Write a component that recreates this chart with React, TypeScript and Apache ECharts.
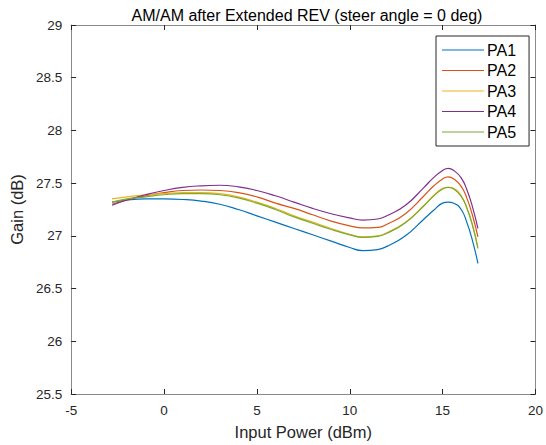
import React, { useEffect, useRef } from "react";
import * as echarts from "echarts";

const inputPower = [-2.8, -2, -1, 0, 1, 2, 3, 4, 5, 6, 7, 8, 9, 10, 10.7, 11.5, 12, 13, 14, 14.5, 15, 15.3, 15.6, 16, 16.3, 16.6, 16.9];

const pa1 = [27.32, 27.34, 27.35, 27.35, 27.345, 27.33, 27.3, 27.25, 27.19, 27.13, 27.07, 27.01, 26.95, 26.89, 26.86, 26.87, 26.9, 27.0, 27.16, 27.24, 27.31, 27.32, 27.31, 27.25, 27.13, 26.96, 26.74];
const pa2 = [27.3, 27.34, 27.38, 27.41, 27.43, 27.435, 27.43, 27.41, 27.37, 27.31, 27.26, 27.2, 27.14, 27.095, 27.075, 27.08, 27.11, 27.21, 27.38, 27.47, 27.54, 27.56, 27.54, 27.47, 27.36, 27.2, 26.99];
const pa3 = [27.35, 27.37, 27.39, 27.4, 27.41, 27.41, 27.4, 27.37, 27.32, 27.26, 27.19, 27.13, 27.07, 27.015, 26.99, 27.0, 27.03, 27.13, 27.29, 27.38, 27.45, 27.46, 27.45, 27.38, 27.27, 27.11, 26.89];
const pa4 = [27.29, 27.34, 27.39, 27.43, 27.46, 27.475, 27.48, 27.465, 27.43, 27.38, 27.32, 27.26, 27.21, 27.17, 27.15, 27.16, 27.19, 27.29, 27.46, 27.55, 27.62, 27.64, 27.62, 27.55, 27.44, 27.28, 27.07];
const pa5 = [27.32, 27.35, 27.37, 27.39, 27.4, 27.4, 27.39, 27.36, 27.31, 27.25, 27.18, 27.12, 27.06, 27.01, 26.985, 26.995, 27.025, 27.125, 27.285, 27.375, 27.445, 27.46, 27.445, 27.375, 27.265, 27.105, 26.88];

const seriesNames = ["PA1", "PA2", "PA3", "PA4", "PA5"];
const seriesValues = [pa1, pa2, pa3, pa4, pa5];
const colors = ["#0072BD", "#D95319", "#EDB120", "#7E2F8E", "#77AC30"];

const FONT = "'Liberation Sans', Arial, Helvetica, sans-serif";
const AXIS_COLOR = "#8a8a8a";
const TEXT_COLOR = "#262626";

export default function App() {
  const ref = useRef<HTMLDivElement>(null);
  useEffect(() => {
    if (!ref.current) return;
    const chart = echarts.init(ref.current, undefined, { renderer: "svg" });
    const tick = { show: true, inside: true, length: 5, lineStyle: { color: TEXT_COLOR, width: 1 } };
    const line = { show: true, onZero: false, lineStyle: { color: AXIS_COLOR, width: 1 } };
    chart.setOption({
      animation: false,
      backgroundColor: "#ffffff",
      textStyle: { fontFamily: FONT },
      title: {
        text: "AM/AM after Extended REV (steer angle = 0 deg)",
        left: 302,
        top: 2,
        textAlign: "center",
        textStyle: { fontFamily: FONT, fontSize: 16, fontWeight: "normal", color: "#000" },
      },
      grid: { left: 68, right: 10, top: 25, bottom: 51, containLabel: false },
      legend: {
        orient: "vertical",
        left: 436,
        top: 36,
        padding: [6, 13, 6, 6],
        itemGap: 4.5,
        itemWidth: 42,
        itemHeight: 18,
        icon: "path://M0,8.5 L42,8.5 L42,9.5 L0,9.5 Z",
        borderColor: "#262626",
        borderWidth: 1,
        backgroundColor: "#ffffff",
        textStyle: { fontFamily: FONT, fontSize: 16, color: "#000", padding: [0, 0, 0, -2] },
        data: seriesNames,
      },
      xAxis: [
        {
          type: "value",
          position: "bottom",
          min: -5,
          max: 20,
          interval: 5,
          name: "Input Power (dBm)",
          nameLocation: "middle",
          nameGap: 29,
          nameTextStyle: { fontFamily: FONT, fontSize: 16.5, color: TEXT_COLOR },
          axisLine: line,
          axisTick: tick,
          axisLabel: { fontFamily: FONT, fontSize: 13.5, color: TEXT_COLOR, margin: 9 },
          splitLine: { show: false },
        },
        {
          type: "value",
          position: "top",
          min: -5,
          max: 20,
          interval: 5,
          axisLine: line,
          axisTick: tick,
          axisLabel: { show: false },
          splitLine: { show: false },
        },
      ],
      yAxis: [
        {
          type: "value",
          position: "left",
          min: 25.5,
          max: 29,
          interval: 0.5,
          name: "Gain (dB)",
          nameLocation: "middle",
          nameGap: 43,
          nameTextStyle: { fontFamily: FONT, fontSize: 16.5, color: TEXT_COLOR },
          axisLine: line,
          axisTick: tick,
          axisLabel: { fontFamily: FONT, fontSize: 13.5, color: TEXT_COLOR, margin: 9 },
          splitLine: { show: false },
        },
        {
          type: "value",
          position: "right",
          min: 25.5,
          max: 29,
          interval: 0.5,
          axisLine: line,
          axisTick: tick,
          axisLabel: { show: false },
          splitLine: { show: false },
        },
      ],
      series: seriesNames.map((name, i) => ({
        name,
        type: "line",
        xAxisIndex: 0,
        yAxisIndex: 0,
        data: inputPower.map((x, j) => [x, seriesValues[i][j]]),
        showSymbol: false,
        symbol: "none",
        smooth: 0.5,
        color: colors[i],
        lineStyle: { color: colors[i], width: 1.2 },
      })),
    });
    return () => chart.dispose();
  }, []);
  return <div ref={ref} style={{ width: 546, height: 445, position: "absolute", left: 0, top: 0 }} />;
}
